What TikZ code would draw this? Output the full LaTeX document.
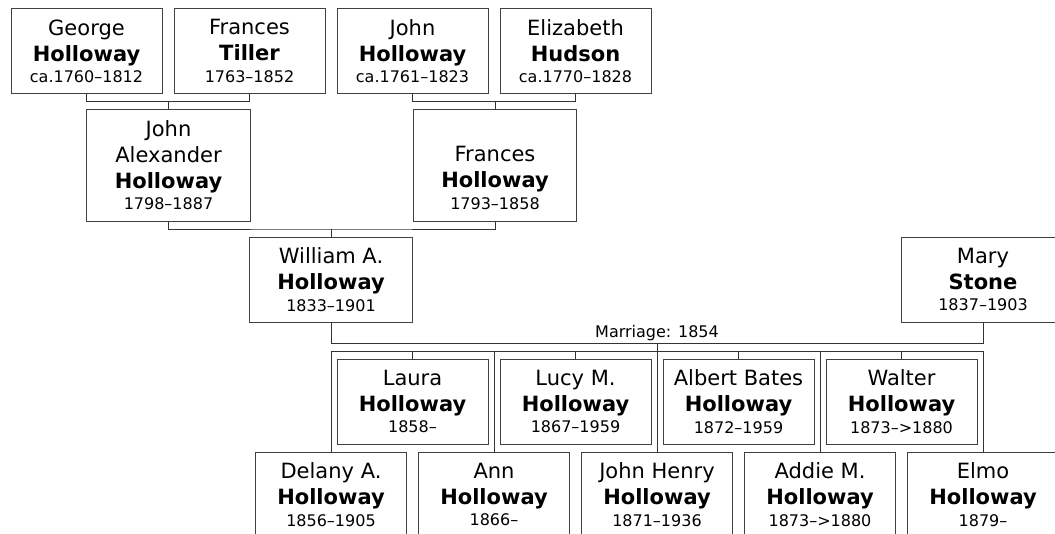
\documentclass[tikz,border=0pt]{standalone}
\usepackage{fontspec}
\setmainfont{DejaVu Sans}
\usepackage{tikz}
\usetikzlibrary{positioning}
\newcommand{\lifespan}{\fontsize{12}{15}\selectfont}

\begin{document}
\begin{tikzpicture}[x=0.75pt,y=-0.75pt,node distance=122.25pt,line width=0.75pt]
  \tikzstyle{person}=[draw=black!75, align=center, inner sep=0pt,
    minimum width=113.25pt, minimum height=63.75pt,
    font=\fontsize{15.75}{19.5}\selectfont]
  \tikzstyle{wide}=[minimum width=122.5pt]
  \tikzstyle{link}=[draw=black!80]
  \useasboundingbox (0,0) rectangle (1055,533);

  % grandparents
  \node[person]         (george)    at (86.5,51)       {George\\\textbf{Holloway}\\[-3.5pt]\lifespan ca.1760--1812};
  \node[person]         (tiller)    [right of=george]  {Frances\\\textbf{Tiller}\\[-3.5pt]\lifespan 1763--1852};
  \node[person]         (john)      [right of=tiller]  {John\\\textbf{Holloway}\\[-3.5pt]\lifespan ca.1761--1823};
  \node[person]         (hudson)    [right of=john]    {Elizabeth\\\textbf{Hudson}\\[-3.5pt]\lifespan ca.1770--1828};

  % parents
  \node[person,wide,minimum height=84pt] (jalex) at (168.5,165) {John\\Alexander\\\textbf{Holloway}\\[-3.5pt]\lifespan 1798--1887};
  \node[person,wide,minimum height=84pt] (fholl) at (495,165)   {\vphantom{J}\\Frances\\\textbf{Holloway}\\[-3.5pt]\lifespan 1793--1858};

  % couple
  \node[person,wide]    (william)   at (331,279.5)     {William A.\\\textbf{Holloway}\\[-3.5pt]\lifespan 1833--1901};
  \node[person,wide]    (mary)      at (983,279.5)     {Mary\\\textbf{Stone}\\[-3.5pt]\lifespan 1837--1903};

  % children, upper row
  \node[person]         (laura)     at (412.5,401.5)   {Laura\\\textbf{Holloway}\\[-3.5pt]\lifespan 1858--};
  \node[person]         (lucy)      [right of=laura]   {Lucy M.\\\textbf{Holloway}\\[-3.5pt]\lifespan 1867--1959};
  \node[person]         (albert)    [right of=lucy]    {Albert Bates\\\textbf{Holloway}\\[-3.5pt]\lifespan 1872--1959};
  \node[person]         (walter)    [right of=albert]  {Walter\\\textbf{Holloway}\\[-3.5pt]\lifespan 1873--{>}1880};

  % children, lower row
  \node[person]         (delany)    at (331,494.5)     {Delany A.\\\textbf{Holloway}\\[-3.5pt]\lifespan 1856--1905};
  \node[person]         (ann)       [right of=delany]  {Ann\\\textbf{Holloway}\\[-3.5pt]\lifespan 1866--};
  \node[person]         (johnh)     [right of=ann]     {John Henry\\\textbf{Holloway}\\[-3.5pt]\lifespan 1871--1936};
  \node[person]         (addie)     [right of=johnh]   {Addie M.\\\textbf{Holloway}\\[-3.5pt]\lifespan 1873--{>}1880};
  \node[person]         (elmo)      [right of=addie]   {Elmo\\\textbf{Holloway}\\[-3.5pt]\lifespan 1879--};

  \coordinate (gt)   at (168.5,101.5);
  \coordinate (je)   at (495,101.5);
  \coordinate (jf)   at (331,229);
  \coordinate (wm)   at (657,343);
  \coordinate (kids) at (657,351);

  \node (marriage) [above=1pt of wm, inner sep=0pt, font=\lifespan] {Marriage: 1854};

  \path[link]
  (george.south) |- (gt) -| (tiller.south)
  (gt) -- (jalex.north)
  (john.south) |- (je) -| (hudson.south)
  (je) -- (fholl.north)
  (jalex.south) |- (jf) -| (fholl.south)
  (jf) -- (william.north)
  (william.south) |- (wm) -| (mary.south)
  (wm) -- (johnh.north)
  (delany.north) |- (kids) -| (elmo.north)
  (ann.north) -- (ann.north |- kids)
  (addie.north) -- (addie.north |- kids)
  ;
  \foreach \kid in {laura,lucy,albert,walter}
    \draw[link] (\kid.north) -- (\kid.north |- kids);
\end{tikzpicture}
\end{document}
